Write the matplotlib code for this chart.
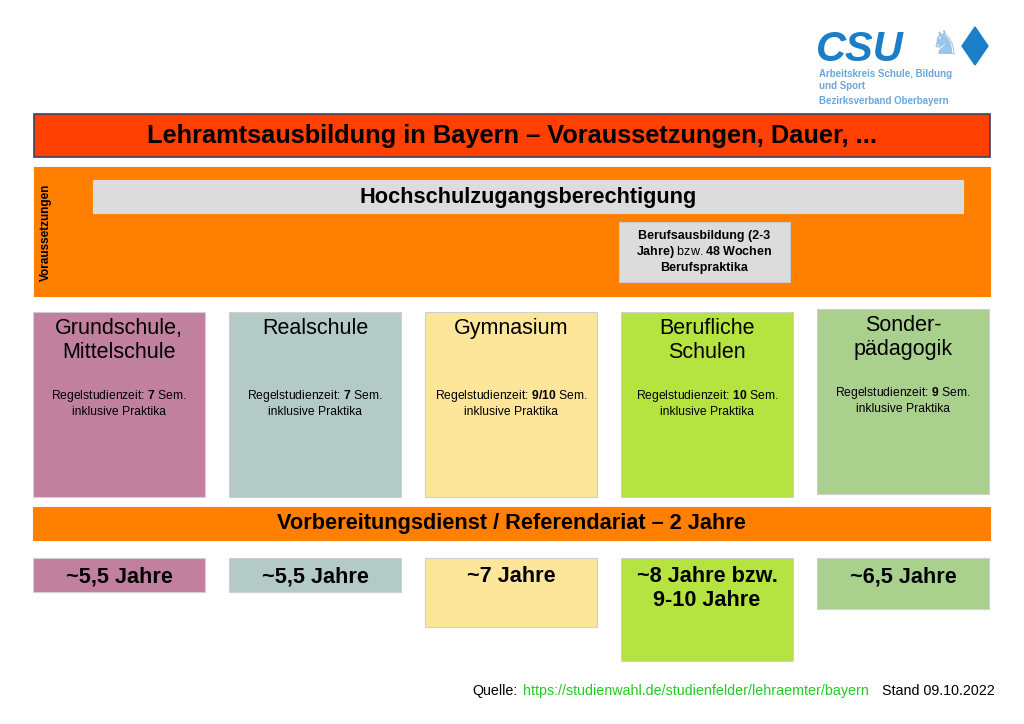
import matplotlib
matplotlib.use("Agg")
import matplotlib.pyplot as plt
from matplotlib.patches import Rectangle, Polygon

plt.rcParams["font.family"] = "Liberation Sans"
plt.rcParams["mathtext.fontset"] = "custom"
plt.rcParams["mathtext.rm"] = "Liberation Sans"
plt.rcParams["mathtext.bf"] = "Liberation Sans:bold"

# data
schools = ["Grundschule,\nMittelschule", "Realschule", "Gymnasium", "Berufliche\nSchulen", "Sonder-\npädagogik"]
semesters = ["7", "7", "9/10", "10", "9"]
total_years = ["~5,5 Jahre", "~5,5 Jahre", "~7 Jahre", "~8 Jahre bzw.\n9-10 Jahre", "~6,5 Jahre"]
colors = ["#c0809e", "#b3cac7", "#fde59a", "#b5e33f", "#aad08e"]
col_x = [33, 229, 425, 621, 817]
top_y = [312, 312, 312, 312, 309]
top_h = [185, 185, 185, 185, 185]
bot_h = [34, 34, 69, 103, 51]

fig = plt.figure(figsize=(10.24, 7.24), dpi=100)
ax = fig.add_axes([0, 0, 1, 1])
ax.set_xlim(0, 1024)
ax.set_ylim(724, 0)
ax.axis("off")

def box(x, y, w, h, fc, ec="#d0d0d0", lw=0.8):
    ax.add_patch(Rectangle((x, y), w, h, facecolor=fc, edgecolor=ec, linewidth=lw))

# logo
ax.text(816, 61, "CSU", fontsize=30, fontweight="bold", fontstyle="italic", color="#1a7fc8", va="baseline")
ax.add_patch(Polygon([[975, 27], [988, 46], [975, 65], [962, 46]], closed=True, color="#1a7fc8"))
ax.text(945, 45, "♞", fontsize=24, color="#9cc4ea", ha="center", va="center", family="DejaVu Sans")
ax.text(819, 74, "Arbeitskreis Schule, Bildung", fontsize=7, fontweight="bold", color="#6aa7dc", va="center")
ax.text(819, 86, "und Sport", fontsize=7, fontweight="bold", color="#6aa7dc", va="center")
ax.text(819, 101, "Bezirksverband Oberbayern", fontsize=7, fontweight="bold", color="#6aa7dc", va="center")

# title
box(34, 114, 956, 43, "#ff4000", ec="#404060", lw=1.2)
ax.text(512, 136, "Lehramtsausbildung in Bayern – Voraussetzungen, Dauer, ...", fontsize=18.3, fontweight="bold", ha="center", va="center")

# requirements
box(34, 167, 956, 129, "#ff8000", ec="#ff8000")
ax.text(46, 232, "Voraussetzungen", rotation=90, fontsize=8.5, fontweight="bold", ha="center", va="center")
box(93, 180, 870, 33, "#dcdcdc", ec="#dcdcdc")
ax.text(528, 197, "Hochschulzugangsberechtigung", fontsize=15.7, fontweight="bold", ha="center", va="center")
box(619, 222, 171, 60, "#dcdcdc", ec="#c8c8c8")
ax.text(704, 252, "Berufsausbildung (2-3\nJahre) $\\mathrm{bzw.}$48 Wochen\nBerufspraktika", fontsize=9,
        fontweight="bold", ha="center", va="center", linespacing=1.2)

# school types
for i in range(len(schools)):
    x = col_x[i]
    box(x, top_y[i], 172, top_h[i], colors[i])
    ax.text(x + 86, top_y[i] + 6, schools[i], fontsize=15.5, ha="center", va="top", linespacing=1.2)
    ax.text(x + 86, top_y[i] + 91, "Regelstudienzeit: $\\mathbf{" + semesters[i] + "}$ Sem.\ninklusive Praktika",
            fontsize=8.7, ha="center", va="center", linespacing=1.15)

# Vorbereitungsdienst
box(33, 507, 957, 33, "#ff8000", ec="#ff8000")
ax.text(511, 524, "Vorbereitungsdienst / Referendariat – 2 Jahre", fontsize=15.7, fontweight="bold", ha="center", va="center")

for i in range(len(total_years)):
    x = col_x[i]
    box(x, 558, 172, bot_h[i], colors[i])
    ax.text(x + 86, 566, total_years[i], fontsize=15.6, fontweight="bold", ha="center", va="top", linespacing=1.2)

# source
ax.text(472, 691, "Quelle:", fontsize=10.3, va="center")
ax.text(523, 691, "https://studienwahl.de/studienfelder/lehraemter/bayern", fontsize=10.3, color="#22cc22", va="center")
ax.text(995, 691, "Stand 09.10.2022", fontsize=10.3, va="center", ha="right")

fig.savefig("out.png", dpi=100)
